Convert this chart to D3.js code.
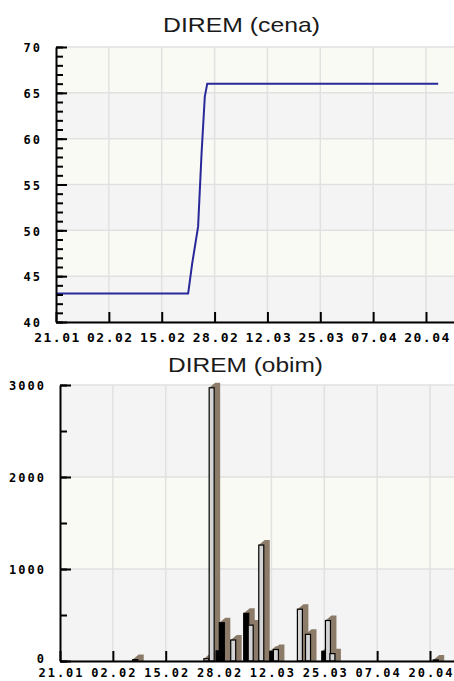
<!DOCTYPE html>
<html>
<head>
<meta charset="utf-8">
<script src="https://cdn.jsdelivr.net/npm/d3@7"></script>
<style>
  body { margin: 0; background: #fff; }
  .tick text { font-family: "DejaVu Sans Mono", monospace; font-weight: bold; fill: #000; }
</style>
</head>
<body>
<div id="canvas"></div>
<script>
// x axis: days counted from 21.01, one label every 13 days
const xTickDays = [0, 13, 26, 39, 52, 65, 78, 91];
const xLabels = ["21.01", "02.02", "15.02", "28.02", "12.03", "25.03", "07.04", "20.04"];

// cena (price)
const priceDays = [0, 32.5, 33.5, 34.95, 35.8, 36.6, 37.2, 94];
const priceValues = [43.1, 43.1, 46.4, 50.4, 58.4, 64.6, 66, 66];
const priceTicks = [40, 45, 50, 55, 60, 65, 70];

// obim (volume), two series: dark bars and light bars
const darkDays = [39.0, 39.8, 45.8, 52.2, 65.0];
const darkValues = [110, 416, 518, 105, 105];
const lightDays = [18.5, 36.0, 37.3, 42.6, 46.9, 49.5, 53.1, 59.0, 61.0, 65.9, 67.0, 92.4];
const lightValues = [15, 25, 2970, 228, 390, 1260, 125, 563, 290, 440, 80, 12];
const volumeTicks = [0, 1000, 2000, 3000];

const width = 454;
const height = 681;
const gray = "#f4f4f4";
const cream = "#fafaf4";
const gridColor = "#e1e1e1";

let svg = d3.select("#canvas").append("svg")
    .attr("width", width)
    .attr("height", height);

function title(txt, cx, y, len) {
  svg.append("text")
      .attr("x", cx - len / 2)
      .attr("y", y)
      .attr("textLength", len)
      .attr("lengthAdjust", "spacingAndGlyphs")
      .style("font-family", "'Liberation Sans', Arial, sans-serif")
      .style("font-size", "21px")
      .style("fill", "#1a1a1a")
      .text(txt);
}

function frame(x, y, ticks) {
  const [x0, x1] = x.range();
  const [y0, y1] = y.range();
  // alternating bands, gray at the bottom
  for (let i = 0; i < ticks.length - 1; i++) {
    svg.append("rect")
        .attr("x", x0).attr("width", x1 - x0)
        .attr("y", y(ticks[i + 1]))
        .attr("height", y(ticks[i]) - y(ticks[i + 1]))
        .style("fill", i % 2 == 0 ? gray : cream);
  }
  // grid
  svg.append("g").selectAll("line").data(ticks).enter().append("line")
      .attr("x1", x0).attr("x2", x1)
      .attr("y1", d => y(d)).attr("y2", d => y(d))
      .style("stroke", gridColor).style("stroke-width", 1.5);
  svg.append("g").selectAll("line").data(xTickDays.slice(1)).enter().append("line")
      .attr("x1", d => x(d)).attr("x2", d => x(d))
      .attr("y1", y1).attr("y2", y0)
      .style("stroke", gridColor).style("stroke-width", 1.5);
}

function axes(x, y, ticks, minor, yPad, xPad, xSize, zeroDy) {
  const [x0] = x.range();
  const [y0] = y.range();
  let ax = svg.append("g")
      .attr("transform", `translate(0,${y0})`)
      .call(d3.axisBottom(x).tickValues(xTickDays)
        .tickFormat((d, i) => xLabels[i])
        .tickSizeInner(-10).tickSizeOuter(0).tickPadding(xPad));
  ax.selectAll("text")
      .style("font-size", xSize + "px")
      .style("letter-spacing", (xSize > 12 ? 1.5 : 2) + "px")
      .attr("dx", 1);

  svg.append("g")
      .attr("transform", `translate(${x0},0)`)
      .call(d3.axisLeft(y).tickValues(minor).tickFormat("")
        .tickSizeInner(-7).tickSizeOuter(0))
      .select(".domain").remove();

  let ay = svg.append("g")
      .attr("transform", `translate(${x0},0)`)
      .call(d3.axisLeft(y).tickValues(ticks).tickFormat(d3.format("d"))
        .tickSizeInner(-11).tickSizeOuter(0).tickPadding(yPad));
  ay.selectAll("text")
      .style("font-size", "12px")
      .style("letter-spacing", "2px")
      .attr("dy", (d, i) => i == 0 ? zeroDy : "0.4em");

  svg.selectAll(".domain").style("stroke", "#000").style("stroke-width", 2);
  svg.selectAll(".tick line").style("stroke", "#000").style("stroke-width", 2);
}

// ---- top chart: cena ----
title("DIREM (cena)", 241.5, 32, 157);

const xTop = d3.scaleLinear().domain([0, 91 * 398 / 370]).range([56, 454]);
const yTop = d3.scaleLinear().domain([40, 70]).range([322, 47]);

frame(xTop, yTop, priceTicks);

const line = d3.line()
    .x((d, i) => xTop(priceDays[i]))
    .y(d => yTop(d));

svg.append("path")
    .datum(priceValues)
    .attr("d", line)
    .style("fill", "none")
    .style("stroke", "#28289a")
    .style("stroke-width", 2);

axes(xTop, yTop, priceTicks, d3.range(40, 71, 1), 14, 10.5, 13, "0.4em");

// ---- bottom chart: obim ----
title("DIREM (obim)", 245.5, 372, 155);

const xBot = d3.scaleLinear().domain([0, 91 * 394 / 370]).range([60, 454]);
const yBot = d3.scaleLinear().domain([0, 3000]).range([661, 385]);

frame(xBot, yBot, volumeTicks);

let bars = darkDays.map((d, i) => ({ day: d, value: darkValues[i], dark: true }))
    .concat(lightDays.map((d, i) => ({ day: d, value: lightValues[i], dark: false })))
    .sort((a, b) => a.day - b.day);

const barW = 5;
const depthX = 6;
const depthY = 5;
const base = yBot(0);

let g2 = svg.append("g");
bars.forEach(b => {
  const left = xBot(b.day) - barW / 2;
  const right = left + barW;
  const top = yBot(b.value);
  g2.append("polygon")
      .attr("points", [
        [left, top], [left + depthX, top - depthY], [right + depthX, top - depthY],
        [right + depthX, base], [right, base], [right, top]
      ].map(p => p.join(",")).join(" "))
      .style("fill", "#8b7b68");
  g2.append("rect")
      .attr("x", left)
      .attr("y", top)
      .attr("width", barW)
      .attr("height", base - top)
      .style("fill", b.dark ? "#000" : "#d4d4d4")
      .style("stroke", "#000")
      .style("stroke-width", 1.2);
});

axes(xBot, yBot, volumeTicks, d3.range(0, 3001, 500), 14, 7, 12, "0.15em");
</script>
</body>
</html>
